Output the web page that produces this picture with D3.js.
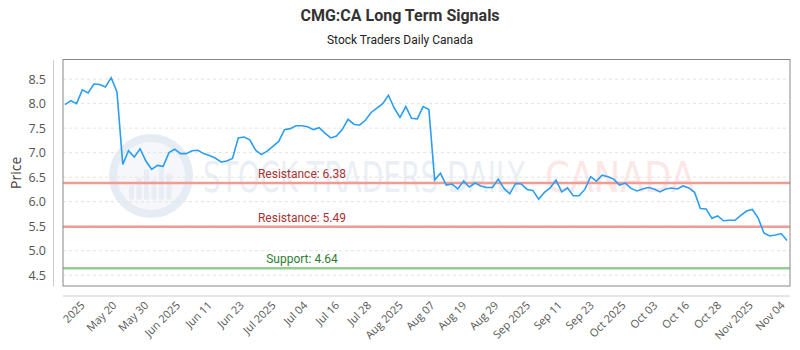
<!DOCTYPE html>
<html>
<head>
<meta charset="utf-8">
<script src="https://cdn.jsdelivr.net/npm/d3@7"></script>
<style>
  body { margin: 0; background: #fff; }
  svg { display: block; }
</style>
</head>
<body>
<script>
let prices = [
    7.98, 8.06, 8.00, 8.28, 8.22, 8.40, 8.39, 8.34, 8.53, 8.24,
    6.76, 7.04, 6.91, 7.08, 6.83, 6.66, 6.74, 6.72, 7.00, 7.07,
    6.98, 6.98, 7.04, 7.05, 6.98, 6.94, 6.89, 6.81, 6.83, 6.88,
    7.30, 7.32, 7.26, 7.05, 6.96, 7.03, 7.13, 7.23, 7.47, 7.49,
    7.55, 7.55, 7.53, 7.47, 7.51, 7.40, 7.30, 7.34, 7.47, 7.68,
    7.58, 7.56, 7.66, 7.82, 7.91, 8.00, 8.17, 7.91, 7.72, 7.94,
    7.70, 7.69, 7.94, 7.88, 6.44, 6.58, 6.34, 6.36, 6.26, 6.42,
    6.30, 6.38, 6.32, 6.29, 6.29, 6.46, 6.27, 6.16, 6.37, 6.36,
    6.25, 6.23, 6.05, 6.19, 6.28, 6.44, 6.20, 6.28, 6.12, 6.12,
    6.25, 6.51, 6.42, 6.54, 6.51, 6.46, 6.34, 6.38, 6.27, 6.22,
    6.26, 6.29, 6.26, 6.20, 6.26, 6.28, 6.26, 6.32, 6.28, 6.19,
    5.86, 5.85, 5.66, 5.71, 5.61, 5.62, 5.62, 5.72, 5.81, 5.84,
    5.67, 5.36, 5.30, 5.32, 5.35, 5.21
]

let tickLabels = ["2025", "May 20", "May 30", "Jun 2025", "Jun 11", "Jun 23",
    "Jul 2025", "Jul 04", "Jul 16", "Jul 28", "Aug 2025", "Aug 07", "Aug 19",
    "Aug 29", "Sep 2025", "Sep 11", "Sep 23", "Oct 2025", "Oct 03", "Oct 16",
    "Oct 28", "Nov 2025", "Nov 04"]

let yTicks = [4.5, 5.0, 5.5, 6.0, 6.5, 7.0, 7.5, 8.0, 8.5]

let levelValues = [6.38, 5.49, 4.64]
let levelNames = ["Resistance", "Resistance", "Support"]
let levelKinds = ["res", "res", "sup"]

const W = 800, H = 350
const margin = { top: 59.5, left: 63, right: 10, bottom: 64 }
const width = W - margin.left - margin.right
const height = H - margin.top - margin.bottom

let svg = d3.select("body")
    .append("svg")
    .attr("width", W)
    .attr("height", H)

// title
svg.append("text")
    .attr("x", W / 2).attr("y", 21)
    .attr("text-anchor", "middle")
    .style("font-family", "Roboto, sans-serif")
    .style("font-weight", "bold")
    .style("font-size", "16px")
    .style("fill", "#333")
    .text("CMG:CA Long Term Signals")

svg.append("text")
    .attr("x", W / 2).attr("y", 44)
    .attr("text-anchor", "middle")
    .style("font-family", "Roboto, sans-serif")
    .style("font-size", "12px")
    .style("fill", "#222")
    .text("Stock Traders Daily Canada")

let chart = svg.append("g")
    .attr("transform", `translate(${margin.left}, ${margin.top})`)

var x = d3.scaleLinear()
    .domain([0, prices.length - 1])
    .range([2, width - 3])

var y = d3.scaleLinear()
    .domain([4.28, 8.9])
    .range([height, 0])

// watermark
let wm = chart.append("g")
wm.append("circle")
    .attr("cx", 88).attr("cy", 116.5).attr("r", 38)
    .style("fill", "#f5f7fb")
    .style("stroke", "#e6ecf4")
    .style("stroke-width", 8)
wm.selectAll("rect.wmbar")
    .data([14, 22, 30, 20, 34, 26])
    .enter()
    .append("rect")
    .attr("class", "wmbar")
    .attr("x", (d, i) => 66 + i * 7.5)
    .attr("y", d => 140 - d)
    .attr("width", 5)
    .attr("height", d => d)
    .style("fill", "#e8edf5")
wm.append("text")
    .attr("x", 140).attr("y", 132)
    .attr("textLength", 322)
    .attr("lengthAdjust", "spacingAndGlyphs")
    .style("font-family", "DejaVu Sans, sans-serif")
    .style("font-size", "42px")
    .style("fill", "#eaeff5")
    .text("STOCK TRADERS DAILY")
wm.append("text")
    .attr("x", 482).attr("y", 132)
    .attr("textLength", 150)
    .attr("lengthAdjust", "spacingAndGlyphs")
    .style("font-family", "DejaVu Sans, sans-serif")
    .style("font-size", "42px")
    .style("fill", "#fce7e7")
    .text("CANADA")

// grid
chart.append("g")
    .selectAll("line")
    .data(yTicks)
    .enter()
    .append("line")
    .attr("x1", 0).attr("x2", width)
    .attr("y1", d => y(d)).attr("y2", d => y(d))
    .style("stroke", "#e3e3e3")
    .style("stroke-dasharray", "3,3")

// support / resistance
let levels = chart.append("g")
levels.selectAll("line")
    .data(levelValues)
    .enter()
    .append("line")
    .attr("x1", 0).attr("x2", width)
    .attr("y1", d => y(d)).attr("y2", d => y(d))
    .style("stroke", (d, i) => levelKinds[i] == "res" ? "#f29a94" : "#94cc94")
    .style("stroke-width", 2.5)
levels.selectAll("text")
    .data(levelValues)
    .enter()
    .append("text")
    .attr("x", 239)
    .attr("y", d => y(d) - 5)
    .attr("text-anchor", "middle")
    .style("font-family", "Roboto, sans-serif")
    .style("font-size", "12px")
    .style("fill", (d, i) => levelKinds[i] == "res" ? "#a83232" : "#2e7d32")
    .text((d, i) => `${levelNames[i]}: ${d.toFixed(2)}`)

// price line
let line = d3.line()
    .x((d, i) => x(i))
    .y(d => y(d))

chart.append("path")
    .datum(prices)
    .attr("d", line)
    .style("fill", "none")
    .style("stroke", "#2b9ef3")
    .style("stroke-width", 1.6)

// frame
chart.append("rect")
    .attr("x", 0).attr("y", 0)
    .attr("width", width).attr("height", height)
    .style("fill", "none")
    .style("stroke", "#888")
    .style("stroke-width", 1)

// y axis (offset)
var yAxis = d3.axisLeft(y)
    .tickValues(yTicks)
    .tickFormat(d3.format(".1f"))
    .tickSize(0)
    .tickPadding(7)

let gy = chart.append("g")
    .attr("transform", "translate(-10, 0)")
    .call(yAxis)
gy.select(".domain").style("stroke", "#ccc")
gy.selectAll("text")
    .style("font-family", "Open Sans, sans-serif")
    .style("font-size", "12.5px")
    .style("fill", "#555")

chart.append("text")
    .attr("transform", `translate(${-42}, ${height / 2}) rotate(-90)`)
    .attr("text-anchor", "middle")
    .style("font-family", "Open Sans, sans-serif")
    .style("font-size", "14px")
    .style("fill", "#444")
    .text("Price")

// x axis (offset)
var xTick = d3.scalePoint()
    .domain(tickLabels)
    .range([20, 720])

var xAxis = d3.axisBottom(xTick)
    .tickSize(0)
    .tickSizeOuter(0)

let gx = chart.append("g")
    .attr("transform", `translate(0, ${height + 10})`)
    .call(xAxis)
gx.select(".domain")
    .attr("d", `M0,0H${width}`)
    .style("stroke", "#ccc")
gx.selectAll("text")
    .attr("x", 0).attr("y", 0).attr("dy", 0)
    .attr("transform", "translate(2, 10) rotate(-45)")
    .style("text-anchor", "end")
    .style("font-family", "Open Sans, sans-serif")
    .style("font-size", "11px")
    .style("fill", "#555")
</script>
</body>
</html>
